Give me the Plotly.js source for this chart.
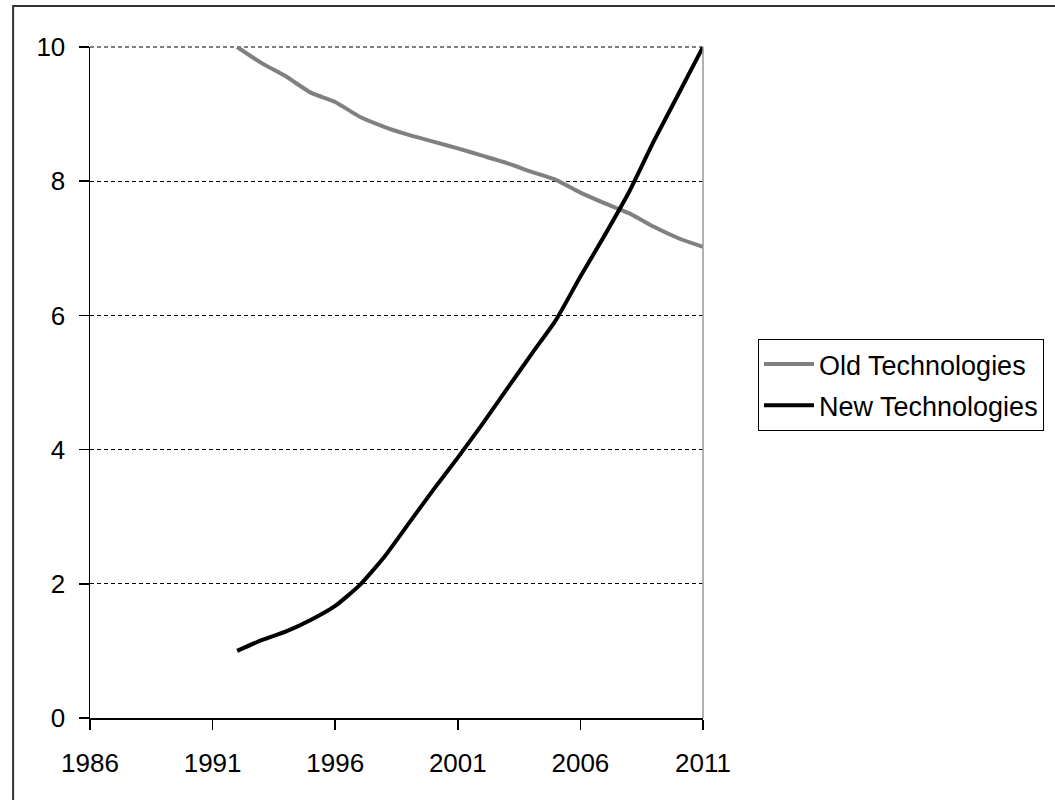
<!DOCTYPE html>
<html>
<head>
<meta charset="utf-8">
<script src="https://cdn.plot.ly/plotly-3.0.1.min.js"></script>
<style>
  html, body { margin: 0; padding: 0; background: #ffffff; }
  #chart { width: 1055px; height: 800px; }
</style>
</head>
<body>
<div id="chart"></div>
<script>
const years = [1992, 1993, 1994, 1995, 1996, 1997, 1998, 1999, 2000, 2001,
               2002, 2003, 2004, 2005, 2006, 2007, 2008, 2009, 2010, 2011];
const oldTech = [10.0, 9.76, 9.56, 9.32, 9.18, 8.96, 8.81, 8.69, 8.59, 8.49,
                 8.38, 8.27, 8.14, 8.02, 7.83, 7.67, 7.52, 7.32, 7.15, 7.02];
const newTech = [1.0, 1.16, 1.29, 1.46, 1.67, 1.98, 2.4, 2.9, 3.4, 3.88,
                 4.38, 4.9, 5.42, 5.93, 6.58, 7.2, 7.85, 8.6, 9.3, 10.0];
const seriesNames = ["Old Technologies", "New Technologies"];
const xTicks = [1986, 1991, 1996, 2001, 2006, 2011];
const yTicks = [0, 2, 4, 6, 8, 10];

const tickFont = {family: "Liberation Sans, Arial, sans-serif", size: 26, color: "#000000"};
const legendFont = {family: "Liberation Sans, Arial, sans-serif", size: 27, color: "#000000"};

const traces = [
  {x: years, y: oldTech, name: seriesNames[0], legendgroup: "a", type: "scatter", mode: "lines",
   line: {color: "#808080", width: 4, shape: "spline", smoothing: 0.5}},
  {x: years, y: newTech, name: seriesNames[1], legendgroup: "b", type: "scatter", mode: "lines",
   line: {color: "#000000", width: 4, shape: "spline", smoothing: 0.5}}
];

const layout = {
  width: 1055, height: 800,
  margin: {l: 90, r: 351, t: 47, b: 82, pad: 0},
  paper_bgcolor: "#ffffff", plot_bgcolor: "#ffffff",
  font: tickFont,
  showlegend: true,
  legend: {
    x: (758 - 90) / 614, y: (718 - 339) / 671, xanchor: "left", yanchor: "top",
    bordercolor: "#000000", borderwidth: 1, bgcolor: "#ffffff",
    font: legendFont, traceorder: "grouped", tracegroupgap: 3, itemwidth: 50
  },
  xaxis: {
    range: [1986, 2011], tickvals: xTicks, ticktext: xTicks.map(String),
    showline: true, linecolor: "#000000", linewidth: 1.5,
    ticks: "outside", ticklen: 10, tickcolor: "#000000", tickwidth: 1.5,
    showgrid: false, zeroline: false, tickfont: tickFont, ticklabelstandoff: 11
  },
  yaxis: {
    range: [0, 10], tickvals: yTicks, ticktext: yTicks.map(String),
    showline: true, linecolor: "#000000", linewidth: 1.5,
    ticks: "outside", ticklen: 10, tickcolor: "#000000", tickwidth: 1.5,
    showgrid: true, gridcolor: "#000000", gridwidth: 1, griddash: "4px,3px",
    zeroline: false, tickfont: tickFont, ticklabelstandoff: 8
  },
  shapes: [
    {type: "line", xref: "paper", yref: "paper", x0: 0, x1: 1, y0: 1, y1: 1,
     line: {color: "#000000", width: 1, dash: "4px,3px"}, layer: "below"},
    {type: "line", xref: "paper", yref: "paper", x0: 1, x1: 1, y0: 0, y1: 1,
     line: {color: "#999999", width: 1.5}},
    {type: "rect", xref: "paper", yref: "paper",
     x0: (13 - 90) / 614, x1: (1070 - 90) / 614,
     y0: (718 - 815) / 671, y1: (718 - 6) / 671,
     line: {color: "#333333", width: 2}, fillcolor: "rgba(0,0,0,0)", layer: "above"}
  ]
};

Plotly.newPlot("chart", traces, layout, {displayModeBar: false, staticPlot: true});
</script>
</body>
</html>
